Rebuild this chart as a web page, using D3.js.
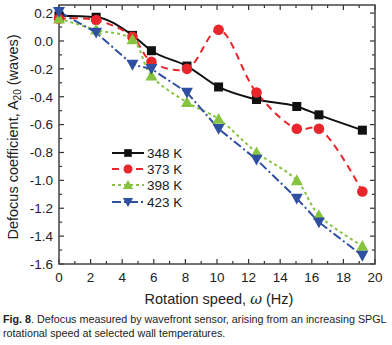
<!DOCTYPE html>
<html><head><meta charset="utf-8">
<script src="https://cdn.jsdelivr.net/npm/d3@7"></script>
<style>body{margin:0;background:#fff;}svg{display:block;font-family:"Liberation Sans",Arial,sans-serif;}</style>
</head><body>
<svg id="c" width="392" height="345"></svg>
<script>
const speeds = [0, 2.35, 4.65, 5.85, 8.1, 10.1, 12.5, 15.05, 16.45, 19.2];
const k348 = [0.18, 0.17, 0.04, -0.07, -0.18, -0.33, -0.42, -0.47, -0.53, -0.64];
const k373 = [0.16, 0.15, 0.03, -0.15, -0.2, 0.08, -0.37, -0.63, -0.63, -1.08];
const k398 = [0.16, 0.08, 0.01, -0.25, -0.44, -0.56, -0.8, -1.0, -1.25, -1.47];
const k423 = [0.21, 0.06, -0.17, -0.2, -0.37, -0.63, -0.85, -1.13, -1.3, -1.54];
const seriesNames = ["348 K", "373 K", "398 K", "423 K"];
const xTicks = [0, 2, 4, 6, 8, 10, 12, 14, 16, 18, 20];
const yTicks = [0.2, 0.0, -0.2, -0.4, -0.6, -0.8, -1.0, -1.2, -1.4, -1.6];

const svg = d3.select("#c");
const L = 59, R = 375, T = 5, B = 264;
const x = d3.scaleLinear().domain([0, 20]).range([L, R]);
const y = d3.scaleLinear().domain([-1.6, 0.258]).range([B, T]);

const series = [
  {name: seriesNames[0], vals: k348, color: "#111", dash: null, marker: "square", curve: d3.curveMonotoneX},
  {name: seriesNames[1], vals: k373, color: "#e8262b", dash: "7,5", marker: "circle", curve: d3.curveCatmullRom.alpha(0.5)},
  {name: seriesNames[2], vals: k398, color: "#86c440", dash: "3,3", marker: "up", curve: d3.curveCatmullRom.alpha(0.5)},
  {name: seriesNames[3], vals: k423, color: "#2f4fa0", dash: "9,3,2,3", marker: "down", curve: d3.curveLinear}
];

const g = svg.append("g");
const minorX = d3.range(1, 20, 2);
const minorY = d3.range(-1.5, 0.25, 0.2);
function tickSet(vals, scale, axis, len) {
  vals.forEach(v => {
    const p = scale(v);
    if (axis === "x") {
      g.append("line").attr("x1", p).attr("x2", p).attr("y1", B).attr("y2", B - len).attr("stroke", "#333").attr("stroke-width", 1.2);
      g.append("line").attr("x1", p).attr("x2", p).attr("y1", T).attr("y2", T + len).attr("stroke", "#333").attr("stroke-width", 1.2);
    } else {
      g.append("line").attr("y1", p).attr("y2", p).attr("x1", L).attr("x2", L + len).attr("stroke", "#333").attr("stroke-width", 1.2);
      g.append("line").attr("y1", p).attr("y2", p).attr("x1", R).attr("x2", R - len).attr("stroke", "#333").attr("stroke-width", 1.2);
    }
  });
}
tickSet(xTicks, x, "x", 5);
tickSet(minorX, x, "x", 3);
tickSet(yTicks, y, "y", 5);
tickSet(minorY, y, "y", 3);
g.append("rect").attr("x", L).attr("y", T).attr("width", R - L).attr("height", B - T)
  .attr("fill", "none").attr("stroke", "#444").attr("stroke-width", 1.5);

xTicks.forEach(v => {
  g.append("text").attr("x", x(v)).attr("y", 282).attr("text-anchor", "middle")
    .attr("font-size", 13.5).attr("fill", "#222").text(v);
});
yTicks.forEach(v => {
  g.append("text").attr("x", 53).attr("y", y(v) + 4.8).attr("text-anchor", "end")
    .attr("font-size", 13.5).attr("fill", "#222").text(d3.format(".1f")(v).replace("−", "-"));
});

const yt = g.append("text").attr("transform", "translate(18,137) rotate(-90)")
  .attr("text-anchor", "middle").attr("font-size", 14.5).attr("fill", "#222");
yt.append("tspan").text("Defocus coefficient, A");
yt.append("tspan").attr("font-size", 10).attr("dy", 3).text("20");
yt.append("tspan").attr("dy", -3).text(" (waves)");

const xt = g.append("text").attr("x", 219).attr("y", 304).attr("text-anchor", "middle")
  .attr("font-size", 14.5).attr("fill", "#222");
xt.append("tspan").text("Rotation speed, ");
xt.append("tspan").attr("font-family", "'DejaVu Serif','Liberation Serif',serif").attr("font-style", "italic").text("ω");
xt.append("tspan").text(" (Hz)");

series.forEach(s => {
  const line = d3.line().x((d, i) => x(speeds[i])).y(d => y(d)).curve(s.curve);
  svg.append("path").attr("d", line(s.vals)).attr("fill", "none")
    .attr("stroke", s.color).attr("stroke-width", 2)
    .attr("stroke-dasharray", s.dash);
});

function drawMarker(sel, type, cx, cy, color, sc) {
  sc = sc || 1;
  if (type === "square") {
    const w = 9 * sc;
    sel.append("rect").attr("x", cx - w / 2).attr("y", cy - w / 2).attr("width", w).attr("height", w).attr("fill", color);
  } else if (type === "circle") {
    sel.append("circle").attr("cx", cx).attr("cy", cy).attr("r", 5.3 * sc).attr("fill", color);
  } else if (type === "up") {
    const h = 6 * sc;
    sel.append("path").attr("d", `M${cx},${cy - h}L${cx + h},${cy + h * 0.8}L${cx - h},${cy + h * 0.8}Z`).attr("fill", color);
  } else {
    const h = 6 * sc;
    sel.append("path").attr("d", `M${cx},${cy + h}L${cx + h},${cy - h * 0.8}L${cx - h},${cy - h * 0.8}Z`).attr("fill", color);
  }
}
series.forEach(s => {
  const mg = svg.append("g");
  s.vals.forEach((v, i) => drawMarker(mg, s.marker, x(speeds[i]), y(v), s.color));
});

const legY = [153, 169, 185, 202];
series.forEach((s, i) => {
  const lg = svg.append("g");
  lg.append("line").attr("x1", 112).attr("x2", 144).attr("y1", legY[i]).attr("y2", legY[i])
    .attr("stroke", s.color).attr("stroke-width", 2).attr("stroke-dasharray", s.dash);
  drawMarker(lg, s.marker, 128, legY[i], s.color, 0.85);
  lg.append("text").attr("x", 147).attr("y", legY[i] + 5).attr("font-size", 13.5).attr("fill", "#222").text(s.name);
});

// caption, sized to fit the reference width
const cap = svg.append("text").attr("x", 3).attr("y", 323).attr("font-size", 11).attr("fill", "#222");
cap.append("tspan").attr("font-weight", "bold").text("Fig. 8");
cap.append("tspan").text(". Defocus measured by wavefront sensor, arising from an increasing SPGL");
const cap2 = svg.append("text").attr("x", 3).attr("y", 337).attr("font-size", 11).attr("fill", "#222")
  .text("rotational speed at selected wall temperatures.");
const w1 = cap.node().getComputedTextLength();
const fs = 11 * 384 / w1;
cap.attr("font-size", fs);
cap2.attr("font-size", fs);
</script>
</body></html>
